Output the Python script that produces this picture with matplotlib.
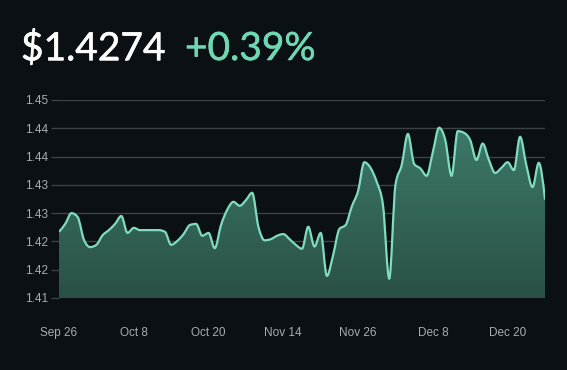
import numpy as np
import matplotlib.pyplot as plt
import matplotlib.patheffects as pe
from matplotlib.path import Path
from matplotlib.patches import PathPatch
from matplotlib.colors import LinearSegmentedColormap

# daily closing rate, one point per trading day
rates = [1.4217, 1.4231, 1.4250, 1.4243, 1.4203, 1.4190, 1.4194, 1.4211, 1.4220, 1.4231,
         1.4245, 1.4215, 1.4224, 1.4220, 1.4220, 1.4220, 1.4220, 1.4217, 1.4194, 1.4201,
         1.4213, 1.4229, 1.4231, 1.4210, 1.4215, 1.4188, 1.4229, 1.4256, 1.4270, 1.4263,
         1.4273, 1.4286, 1.4226, 1.4202, 1.4204, 1.4210, 1.4213, 1.4204, 1.4194, 1.4187,
         1.4226, 1.4191, 1.4215, 1.4139, 1.4176, 1.4222, 1.4229, 1.4262, 1.4289, 1.4340,
         1.4330, 1.4305, 1.4264, 1.4134, 1.4300, 1.4335, 1.4390, 1.4337, 1.4329, 1.4316,
         1.4358, 1.4401, 1.4379, 1.4316, 1.4395, 1.4392, 1.4379, 1.4344, 1.4373, 1.4344,
         1.4321, 1.4330, 1.4340, 1.4326, 1.4385, 1.4335, 1.4296, 1.4339, 1.4274]
date_labels = ['Sep 26', 'Oct 8', 'Oct 20', 'Nov 14', 'Nov 26', 'Dec 8', 'Dec 20']
y_ticks = [1.41, 1.415, 1.42, 1.425, 1.43, 1.435, 1.44, 1.445]
y_labels = ['1.41', '1.42', '1.42', '1.43', '1.43', '1.44', '1.44', '1.45']
price = '$1.4274'
change = '+0.39%'

bg = '#0a1014'
line_col = '#7fdcbe'


def monotone_path(x, y):
    # monotone cubic (like d3 curveMonotoneX) as bezier segments
    n = len(x)
    s = np.diff(y) / np.diff(x)
    m = np.zeros(n)
    for k in range(1, n - 1):
        if s[k - 1] * s[k] > 0:
            p = (s[k - 1] + s[k]) / 2
            m[k] = (np.sign(s[k - 1]) + np.sign(s[k])) * min(abs(s[k - 1]), abs(s[k]), 0.5 * abs(p))
    m[0] = (3 * s[0] - m[1]) / 2
    m[-1] = (3 * s[-1] - m[-2]) / 2
    verts = [(x[0], y[0])]
    codes = [Path.MOVETO]
    for k in range(n - 1):
        h = (x[k + 1] - x[k]) / 3
        verts += [(x[k] + h, y[k] + m[k] * h), (x[k + 1] - h, y[k + 1] - m[k + 1] * h),
                  (x[k + 1], y[k + 1])]
        codes += [Path.CURVE4] * 3
    return verts, codes


fig = plt.figure(figsize=(5.67, 3.70), dpi=100, facecolor=bg)
ax = fig.add_axes([59 / 567, 1 - 298 / 370, 486 / 567, 198 / 370])
ax.set_facecolor(bg)

x = np.arange(len(rates), dtype=float)
y = np.array(rates)
ymin, ymax = 1.41, 1.445

verts, codes = monotone_path(x, y)

# gradient fill under the curve
fill_path = Path(verts + [(x[-1], ymin), (x[0], ymin), (x[0], y[0])],
                 codes + [Path.LINETO, Path.LINETO, Path.CLOSEPOLY])
clip = PathPatch(fill_path, facecolor='none', edgecolor='none', transform=ax.transData)
ax.add_patch(clip)
grad = np.linspace(0, 1, 256).reshape(-1, 1)
cmap = LinearSegmentedColormap.from_list('g', ['#2a5047', '#3f806f'])
img = ax.imshow(grad, cmap=cmap, aspect='auto', origin='lower',
                extent=[x[0], x[-1], ymin, ymax], zorder=1)
img.set_clip_path(clip)

ax.add_patch(PathPatch(Path(verts, codes), facecolor='none', edgecolor=line_col,
                       lw=1.6, zorder=3, joinstyle='round'))

ax.set_xlim(x[0], x[-1])
ax.set_ylim(ymin, ymax)
ax.set_yticks(y_ticks)
ax.set_yticklabels(y_labels)
ax.set_xticks(x[::12])
ax.set_xticklabels(date_labels)
ax.grid(axis='y', color='#3c4347', lw=1)
ax.set_axisbelow(True)
for s in ax.spines.values():
    s.set_visible(False)
ax.tick_params(axis='y', colors='#3c4347', labelcolor='#a9adb0', length=6, width=1,
               pad=2, labelsize=8.5)
ax.tick_params(axis='x', length=0, pad=21, labelcolor='#a9adb0', labelsize=8.5)
for t in ax.get_xticklabels() + ax.get_yticklabels():
    t.set_family('Liberation Sans')

t1 = fig.text(21 / 567, 1 - 49 / 370, price, color='white', fontsize=28, family='Lato',
              va='center', ha='left')
t1.set_path_effects([pe.withStroke(linewidth=0.4, foreground='white')])
t2 = fig.text(185 / 567, 1 - 49 / 370, change, color='#6fd8b3', fontsize=28, family='Lato',
              va='center', ha='left')
t2.set_path_effects([pe.withStroke(linewidth=0.4, foreground='#6fd8b3')])

fig.savefig('out.png', dpi=100, facecolor=bg)
